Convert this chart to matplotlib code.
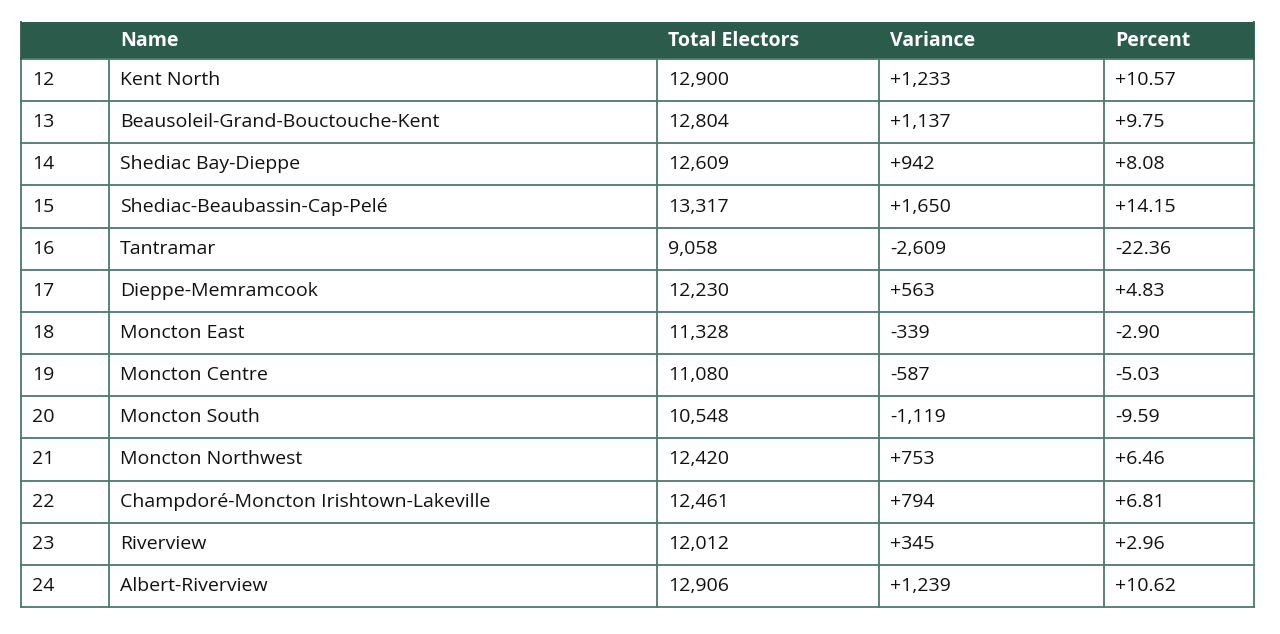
import matplotlib
matplotlib.use("Agg")
import matplotlib.pyplot as plt
from matplotlib.patches import Rectangle

headers = ["", "Name", "Total Electors", "Variance", "Percent"]
ids = ["12","13","14","15","16","17","18","19","20","21","22","23","24"]
names = ["Kent North","Beausoleil-Grand-Bouctouche-Kent","Shediac Bay-Dieppe",
         "Shediac-Beaubassin-Cap-Pelé","Tantramar","Dieppe-Memramcook","Moncton East",
         "Moncton Centre","Moncton South","Moncton Northwest",
         "Champdoré-Moncton Irishtown-Lakeville","Riverview","Albert-Riverview"]
electors = ["12,900","12,804","12,609","13,317","9,058","12,230","11,328","11,080",
            "10,548","12,420","12,461","12,012","12,906"]
variance = ["+1,233","+1,137","+942","+1,650","-2,609","+563","-339","-587","-1,119",
            "+753","+794","+345","+1,239"]
percent = ["+10.57","+9.75","+8.08","+14.15","-22.36","+4.83","-2.90","-5.03","-9.59",
           "+6.46","+6.81","+2.96","+10.62"]

W, H = 1280, 634
fig = plt.figure(figsize=(W/100, H/100), dpi=100)
ax = fig.add_axes([0, 0, 1, 1])
ax.set_xlim(0, W); ax.set_ylim(H, 0); ax.axis("off")

cols = [21, 109, 657, 879, 1104, 1254]
top, hdr_bot, bottom = 22, 59, 607
nrows = len(ids)
rh = (bottom - hdr_bot) / nrows
green = "#2b5b4b"
line = "#4a7a6a"

ax.add_patch(Rectangle((cols[0], top), cols[-1]-cols[0], hdr_bot-top, color=green, lw=0))
for i, h in enumerate(headers):
    ax.text(cols[i]+11, (top+hdr_bot)/2, h, color="white", fontsize=14, fontweight="bold",
            family="Open Sans", va="center", ha="left")

rows = list(zip(ids, names, electors, variance, percent))
for r, row in enumerate(rows):
    yc = hdr_bot + rh*(r+0.5)
    for i, v in enumerate(row):
        ax.text(cols[i]+11, yc, v, color="#111111", fontsize=14, family="Open Sans",
                va="center", ha="left")

for r in range(nrows+1):
    y = hdr_bot + rh*r
    ax.plot([cols[0], cols[-1]], [y, y], color=line, lw=1.3)
for x in cols:
    ax.plot([x, x], [hdr_bot, bottom], color=line, lw=1.3)
ax.plot([cols[0], cols[0]], [top, hdr_bot], color=green, lw=1.3)
ax.plot([cols[-1], cols[-1]], [top, hdr_bot], color=green, lw=1.3)

fig.savefig("out.png", dpi=100, facecolor="white")
